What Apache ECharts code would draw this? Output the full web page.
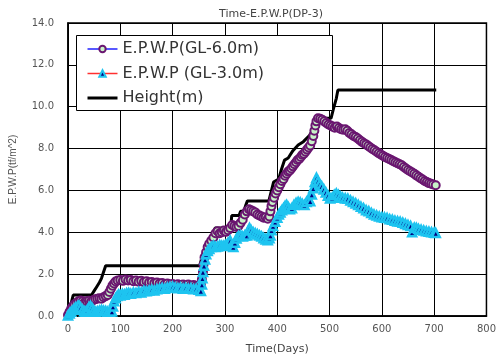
<!DOCTYPE html>
<html><head><meta charset="utf-8">
<script src="https://cdn.jsdelivr.net/npm/echarts@6/dist/echarts.min.js"></script>
<style>html,body{margin:0;padding:0;background:#fff}#c{width:499px;height:360px}</style>
</head><body><div id="c"></div>
<script>
const titleText = "Time-E.P.W.P(DP-3)";
const xName = "Time(Days)";
const yName = "E.P.W.P(tf/m^2)";
const seriesNames = ["E.P.W.P(GL-6.0m)", "E.P.W.P (GL-3.0m)", "Height(m)"];
const xTicks = [0,100,200,300,400,500,600,700,800];
const yTicks = [0,2,4,6,8,10,12,14];

const heightDays = [0,3,6,10,45,50,55,60,64,68,72,252,256,262,270,276,281,311,313,327,330,336,340,343,384,388,393,403,408,414,421,430,440,450,462,470,478,503,508,513,516,704];
const heightVals = [0,0.3,0.6,1.0,1.0,1.2,1.4,1.6,1.8,2.1,2.4,2.4,2.8,3.2,3.4,3.8,4.2,4.2,4.8,4.8,5.0,5.0,5.3,5.5,5.5,5.9,6.4,6.55,7.0,7.45,7.55,7.9,8.17,8.33,8.64,9.0,9.45,9.45,9.95,10.4,10.8,10.8];

const gl6Days = [0,3,6,9,12,16,20,24,28,32,36,40,44,48,52,56,60,64,68,72,76,79,82,85,88,91,95,100,105,110,115,120,125,130,135,140,145,150,155,160,165,170,175,180,185,190,195,200,205,210,215,220,225,230,235,240,245,250,254,256,258,259,261,264,267,270,274,278,282,286,290,294,298,302,306,310,314,318,322,326,330,334,338,342,346,350,354,358,362,366,370,374,378,382,385,387,389,391,394,397,400,403,406,409,412,415,418,421,424,427,430,433,436,439,442,445,448,451,454,457,460,463,466,469,471,473,475,478,482,486,490,494,498,502,506,510,514,518,522,526,530,534,538,542,546,550,554,558,562,566,570,574,578,582,586,590,594,598,602,606,610,614,618,622,626,630,634,638,642,646,650,654,658,662,666,670,674,678,682,686,690,694,698,703];
const gl6Vals = [0.05,0.2,0.35,0.45,0.55,0.62,0.7,0.74,0.7,0.66,0.7,0.73,0.68,0.75,0.8,0.82,0.85,0.83,0.9,0.95,1.0,1.15,1.3,1.45,1.55,1.65,1.7,1.72,1.68,1.75,1.7,1.72,1.66,1.7,1.64,1.68,1.62,1.66,1.6,1.63,1.57,1.6,1.55,1.58,1.52,1.55,1.5,1.53,1.48,1.52,1.47,1.5,1.46,1.5,1.45,1.48,1.44,1.46,1.5,1.75,2.1,2.45,2.8,3.05,3.3,3.45,3.6,3.75,3.95,4.05,3.95,4.0,4.08,4.02,4.1,4.2,4.35,4.3,4.25,4.3,4.45,4.6,4.85,5.0,5.1,5.05,5.0,4.95,4.85,4.8,4.75,4.7,4.72,4.65,4.75,5.0,5.25,5.45,5.65,5.85,6.0,6.15,6.3,6.45,6.55,6.7,6.8,6.9,6.95,7.05,7.15,7.25,7.35,7.45,7.5,7.6,7.7,7.75,7.85,7.95,8.05,8.15,8.35,8.6,8.85,9.1,9.3,9.45,9.42,9.38,9.3,9.22,9.15,9.1,9.05,9.0,9.05,8.98,8.92,8.9,8.92,8.85,8.75,8.68,8.6,8.55,8.48,8.4,8.32,8.25,8.2,8.12,8.05,7.98,7.92,7.85,7.78,7.72,7.66,7.6,7.55,7.5,7.45,7.4,7.35,7.3,7.25,7.2,7.12,7.05,6.98,6.92,6.86,6.8,6.72,6.65,6.58,6.52,6.45,6.4,6.35,6.32,6.28,6.25];

const gl3Days = [0,3,6,10,14,18,21,24,28,31,34,37,40,43,46,49,52,56,60,64,68,72,76,80,84,86,88,91,94,97,100,104,108,112,116,120,125,130,135,140,145,150,155,160,165,170,175,180,185,190,195,200,205,210,215,220,225,230,235,240,245,250,254,256,257,258,260,262,264,267,270,274,278,282,286,290,294,298,302,306,310,313,316,319,322,326,330,334,338,342,345,347,350,354,358,362,366,370,374,378,382,385,387,389,392,396,400,403,406,409,412,415,418,421,424,428,432,436,440,444,448,452,456,460,463,466,469,472,475,478,481,485,489,493,497,501,505,509,513,517,521,525,530,535,540,545,550,555,560,565,570,575,580,585,590,595,600,605,610,615,620,625,630,635,640,645,650,655,658,662,666,670,675,680,685,690,695,700,703];
const gl3Vals = [0.02,0.12,0.2,0.3,0.4,0.45,0.5,0.4,0.3,0.22,0.2,0.3,0.42,0.48,0.38,0.28,0.2,0.22,0.25,0.28,0.25,0.24,0.2,0.2,0.22,0.45,0.7,0.85,0.95,1.02,0.98,1.05,1.02,1.08,1.1,1.06,1.12,1.1,1.15,1.12,1.2,1.18,1.22,1.25,1.22,1.28,1.3,1.33,1.3,1.36,1.38,1.4,1.36,1.32,1.35,1.3,1.34,1.3,1.32,1.28,1.3,1.26,1.2,1.5,1.8,2.1,2.4,2.7,2.95,3.1,3.2,3.3,3.36,3.3,3.32,3.38,3.35,3.36,3.4,3.5,3.6,3.4,3.3,3.5,3.7,3.82,3.85,3.8,3.85,3.85,4.1,4.2,4.1,4.0,3.95,3.9,3.85,3.8,3.72,3.66,3.62,3.72,3.85,4.1,4.3,4.5,4.7,4.85,4.95,5.05,5.15,5.25,5.3,5.2,5.1,5.15,5.3,5.4,5.45,5.42,5.35,5.3,5.45,5.6,5.48,5.8,6.1,6.4,6.6,6.45,6.3,6.2,6.05,5.9,5.75,5.62,5.65,5.78,5.85,5.78,5.7,5.65,5.62,5.6,5.52,5.45,5.38,5.3,5.22,5.15,5.05,5.0,4.92,4.85,4.8,4.75,4.72,4.7,4.68,4.62,4.6,4.55,4.52,4.5,4.45,4.4,4.35,4.3,4.0,4.22,4.2,4.16,4.12,4.08,4.05,4.02,4.0,3.98,3.96];

const zip = (a, b) => a.map((d, i) => [d, b[i]]);

const chart = echarts.init(document.getElementById('c'), null, {renderer: 'canvas'});
const axisLabelStyle = {color: '#555', fontSize: 10, fontFamily: 'DejaVu Sans'};
chart.setOption({
  animation: false,
  backgroundColor: '#fff',
  title: {
    text: titleText, left: 266, top: 4, textAlign: 'center',
    textStyle: {fontSize: 11, fontWeight: 'normal', color: '#444', fontFamily: 'DejaVu Sans'}
  },
  grid: {left: 67, right: 9, top: 23, bottom: 36, show: true, borderColor: '#000', borderWidth: 1.5},
  xAxis: {
    type: 'value', min: 0, max: 800, interval: 100,
    name: xName, nameLocation: 'middle', nameGap: 28,
    nameTextStyle: {fontSize: 11, color: '#444', fontFamily: 'DejaVu Sans'},
    axisLine: {lineStyle: {color: '#000', width: 1.5}},
    axisTick: {show: false},
    axisLabel: Object.assign({margin: 8, formatter: v => xTicks.includes(v) ? String(v) : ''}, axisLabelStyle),
    splitLine: {show: true, lineStyle: {color: '#000', width: 1}}
  },
  yAxis: {
    type: 'value', min: 0, max: 14, interval: 2,
    name: yName, nameLocation: 'middle', nameGap: 50,
    nameTextStyle: {fontSize: 10, color: '#555', fontFamily: 'Liberation Sans'},
    axisLine: {show: true, lineStyle: {color: '#000', width: 1.5}},
    axisTick: {show: false},
    axisLabel: Object.assign({margin: 14, formatter: v => yTicks.includes(v) ? v.toFixed(1) : ''}, axisLabelStyle),
    splitLine: {show: true, lineStyle: {color: '#000', width: 1}}
  },
  graphic: [{
    type: 'rect', z: 3, left: 76, top: 35,
    shape: {width: 256, height: 75},
    style: {fill: '#fff', stroke: '#000', lineWidth: 1}
  }],
  legend: {
    data: [
      {name: seriesNames[0], lineStyle: {width: 1.5, color: '#2020ff'}},
      {name: seriesNames[1], lineStyle: {width: 1.5, color: '#ff3030'}},
      {name: seriesNames[2], lineStyle: {width: 3, color: '#000'}, itemStyle: {opacity: 0}}
    ],
    orient: 'vertical', left: 86, top: 41, z: 5,
    itemWidth: 30, itemHeight: 8, itemGap: 8.5, padding: 0,
    textStyle: {fontSize: 16, lineHeight: 16, color: '#333', fontFamily: 'DejaVu Sans'}
  },
  series: [
    {
      name: seriesNames[2], type: 'line', data: zip(heightDays, heightVals),
      symbol: 'none', lineStyle: {color: '#000', width: 3}, itemStyle: {color: '#000'}, z: 2
    },
    {
      name: seriesNames[0], type: 'line', data: zip(gl6Days, gl6Vals),
      symbol: 'circle', symbolSize: 8,
      lineStyle: {color: '#0000ff', width: 1},
      itemStyle: {color: '#c8f2c8', borderColor: '#6a1670', borderWidth: 2}, z: 3
    },
    {
      name: seriesNames[1], type: 'line', data: zip(gl3Days, gl3Vals),
      symbol: 'triangle', symbolSize: 8,
      lineStyle: {color: '#ff0000', width: 1},
      itemStyle: {color: '#000080', borderColor: '#1ec4f0', borderWidth: 2.5}, z: 4
    }
  ]
});
</script></body></html>
